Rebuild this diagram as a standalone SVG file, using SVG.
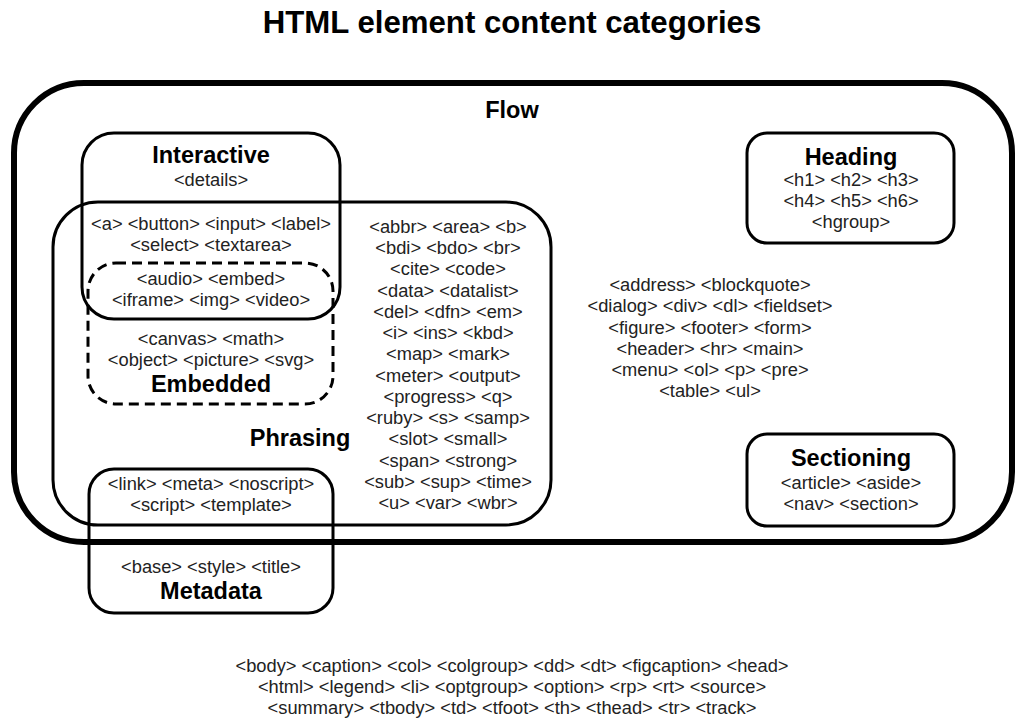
<svg xmlns="http://www.w3.org/2000/svg" width="1024" height="724" viewBox="0 0 1024 724">
<style>
.box{fill:none;stroke:#000;stroke-width:3}
.flow{fill:none;stroke:#000;stroke-width:6}
.dash{fill:none;stroke:#000;stroke-width:3;stroke-dasharray:10 6}
.h{font-family:"Liberation Sans",Arial,sans-serif;font-weight:bold;font-size:23.5px;fill:#000;text-anchor:middle}
.t{font-family:"Liberation Sans",Arial,sans-serif;font-size:18.3px;fill:#222;text-anchor:middle}
.title{font-family:"Liberation Sans",Arial,sans-serif;font-weight:bold;font-size:31.2px;fill:#000;text-anchor:middle}
</style>
<rect width="1024" height="724" fill="#fff"/>
<text class="title" x="512" y="33">HTML element content categories</text>
<g id="flow">
<rect class="flow" x="14" y="83" width="998" height="459" rx="70" ry="70"/>
<text class="h" x="512" y="118">Flow</text>
<text class="t" x="710" y="291">&lt;address&gt; &lt;blockquote&gt;</text>
<text class="t" x="710" y="312">&lt;dialog&gt; &lt;div&gt; &lt;dl&gt; &lt;fieldset&gt;</text>
<text class="t" x="710" y="334">&lt;figure&gt; &lt;footer&gt; &lt;form&gt;</text>
<text class="t" x="710" y="355">&lt;header&gt; &lt;hr&gt; &lt;main&gt;</text>
<text class="t" x="710" y="376">&lt;menu&gt; &lt;ol&gt; &lt;p&gt; &lt;pre&gt;</text>
<text class="t" x="710" y="397">&lt;table&gt; &lt;ul&gt;</text>
</g>
<g id="interactive">
<rect class="box" x="82" y="133" width="258" height="186" rx="32" ry="32"/>
<text class="h" x="211" y="163">Interactive</text>
<text class="t" x="211" y="186">&lt;details&gt;</text>
<text class="t" x="211" y="230">&lt;a&gt; &lt;button&gt; &lt;input&gt; &lt;label&gt;</text>
<text class="t" x="211" y="251">&lt;select&gt; &lt;textarea&gt;</text>
</g>
<g id="phrasing">
<rect class="box" x="53" y="202" width="498" height="323" rx="45" ry="45"/>
<text class="h" x="300" y="446">Phrasing</text>
<text class="t" x="448" y="233">&lt;abbr&gt; &lt;area&gt; &lt;b&gt;</text>
<text class="t" x="448" y="254">&lt;bdi&gt; &lt;bdo&gt; &lt;br&gt;</text>
<text class="t" x="448" y="275">&lt;cite&gt; &lt;code&gt;</text>
<text class="t" x="448" y="297">&lt;data&gt; &lt;datalist&gt;</text>
<text class="t" x="448" y="318">&lt;del&gt; &lt;dfn&gt; &lt;em&gt;</text>
<text class="t" x="448" y="339">&lt;i&gt; &lt;ins&gt; &lt;kbd&gt;</text>
<text class="t" x="448" y="360">&lt;map&gt; &lt;mark&gt;</text>
<text class="t" x="448" y="382">&lt;meter&gt; &lt;output&gt;</text>
<text class="t" x="448" y="403">&lt;progress&gt; &lt;q&gt;</text>
<text class="t" x="448" y="424">&lt;ruby&gt; &lt;s&gt; &lt;samp&gt;</text>
<text class="t" x="448" y="445">&lt;slot&gt; &lt;small&gt;</text>
<text class="t" x="448" y="467">&lt;span&gt; &lt;strong&gt;</text>
<text class="t" x="448" y="488">&lt;sub&gt; &lt;sup&gt; &lt;time&gt;</text>
<text class="t" x="448" y="509">&lt;u&gt; &lt;var&gt; &lt;wbr&gt;</text>
</g>
<g id="embedded">
<rect class="dash" x="88" y="263" width="245" height="141" rx="28" ry="28"/>
<text class="t" x="211" y="285">&lt;audio&gt; &lt;embed&gt;</text>
<text class="t" x="211" y="306">&lt;iframe&gt; &lt;img&gt; &lt;video&gt;</text>
<text class="t" x="211" y="345">&lt;canvas&gt; &lt;math&gt;</text>
<text class="t" x="211" y="366">&lt;object&gt; &lt;picture&gt; &lt;svg&gt;</text>
<text class="h" x="211" y="392">Embedded</text>
</g>
<g id="metadata">
<rect class="box" x="89" y="469" width="244" height="144" rx="25" ry="25"/>
<text class="t" x="211" y="490">&lt;link&gt; &lt;meta&gt; &lt;noscript&gt;</text>
<text class="t" x="211" y="511">&lt;script&gt; &lt;template&gt;</text>
<text class="t" x="211" y="573">&lt;base&gt; &lt;style&gt; &lt;title&gt;</text>
<text class="h" x="211" y="599">Metadata</text>
</g>
<g id="heading">
<rect class="box" x="747" y="133" width="207" height="110" rx="20" ry="20"/>
<text class="h" x="851" y="165">Heading</text>
<text class="t" x="851" y="186">&lt;h1&gt; &lt;h2&gt; &lt;h3&gt;</text>
<text class="t" x="851" y="207">&lt;h4&gt; &lt;h5&gt; &lt;h6&gt;</text>
<text class="t" x="851" y="228">&lt;hgroup&gt;</text>
</g>
<g id="sectioning">
<rect class="box" x="747" y="434" width="207" height="92" rx="20" ry="20"/>
<text class="h" x="851" y="466">Sectioning</text>
<text class="t" x="851" y="489">&lt;article&gt; &lt;aside&gt;</text>
<text class="t" x="851" y="510">&lt;nav&gt; &lt;section&gt;</text>
</g>
<g id="other">
<text class="t" x="512" y="672">&lt;body&gt; &lt;caption&gt; &lt;col&gt; &lt;colgroup&gt; &lt;dd&gt; &lt;dt&gt; &lt;figcaption&gt; &lt;head&gt;</text>
<text class="t" x="512" y="693">&lt;html&gt; &lt;legend&gt; &lt;li&gt; &lt;optgroup&gt; &lt;option&gt; &lt;rp&gt; &lt;rt&gt; &lt;source&gt;</text>
<text class="t" x="512" y="714">&lt;summary&gt; &lt;tbody&gt; &lt;td&gt; &lt;tfoot&gt; &lt;th&gt; &lt;thead&gt; &lt;tr&gt; &lt;track&gt;</text>
</g>
<g id="connectors"></g>
</svg>
